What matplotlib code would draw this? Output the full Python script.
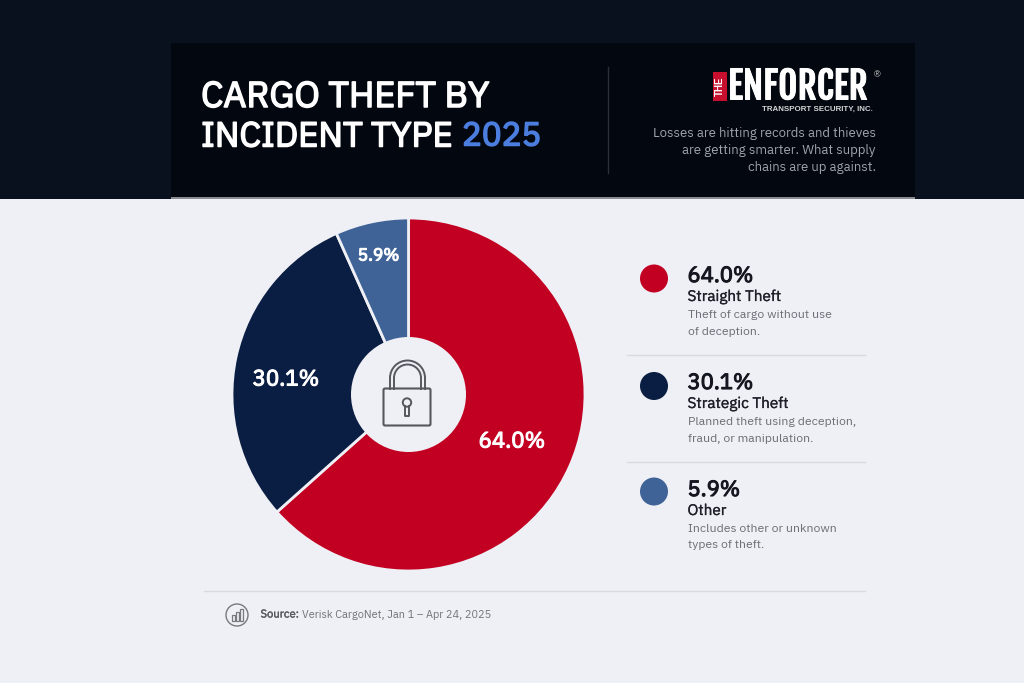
import logging
import matplotlib
matplotlib.use("Agg")
import matplotlib.pyplot as plt
import matplotlib.patheffects as pe
from matplotlib.patches import Rectangle, Circle, FancyBboxPatch, Arc

labels = ["Straight Theft", "Strategic Theft", "Other"]
values = [64.0, 30.1, 5.9]
# slice sizes as actually drawn in the reference (its geometry departs slightly from the printed figures)
drawn_shares = [63.4, 29.9, 6.7]
colors = ["#c20022", "#0a1d42", "#3f6397"]
descriptions = [["Theft of cargo without use", "of deception."],
                ["Planned theft using deception,", "fraud, or manipulation."],
                ["Includes other or unknown", "types of theft."]]
title_lines = ["CARGO THEFT BY", "INCIDENT TYPE "]
title_year = "2025"
subtitle = ["Losses are hitting records and thieves", "are getting smarter. What supply", "chains are up against."]
source_label = "Source:"
source_text = "Verisk CargoNet, Jan 1 – Apr 24, 2025"

W, H = 1024, 683
FONT = ["IBM Plex Sans", "Inter", "DejaVu Sans"]
LOGO = ["Fjalla One", "Anton", "Roboto", "DejaVu Sans"]
plt.rcParams['font.family'] = FONT
logging.getLogger("matplotlib.font_manager").setLevel(logging.ERROR)


def heavy(color, width):
    """Thicken the variable-weight font, which renders at regular weight only."""
    return [pe.withStroke(linewidth=width, foreground=color)]


fig = plt.figure(figsize=(W/100, H/100), dpi=100, facecolor="#eff0f5")
bg = fig.add_axes([0, 0, 1, 1])
bg.set_xlim(0, W); bg.set_ylim(H, 0); bg.axis("off")

bg.add_patch(Rectangle((0, 0), W, 198.5, fc="#0a111e", ec="none"))
bg.add_patch(Rectangle((171, 43), 744, 154, fc="#03070f", ec="none"))
bg.add_patch(Rectangle((171, 197), 744, 1.5, fc="#8a8c93", ec="none"))
bg.plot([607.5, 607.5], [67, 173], color="#2a2f38", lw=1)

bg.text(201, 97, title_lines[0], color="white", fontsize=25.9, va="center", ha="left", path_effects=heavy("white", 1.1))
bg.text(201, 136.5, title_lines[1], color="white", fontsize=25, va="center", ha="left", path_effects=heavy("white", 1.1))
bg.text(462, 136.5, title_year, color="#4c7ee0", fontsize=23.8, va="center", ha="left", path_effects=heavy("#4c7ee0", 1.1))

# logo
bg.add_patch(Rectangle((712.5, 72), 14, 29, fc="#c8102e", ec="none"))
bg.text(719.5, 86.5, "THE", color="white", fontsize=7, fontweight="bold", family="Liberation Sans", rotation=90, ha="center", va="center")
bg.text(728, 87, "ENFORCER", color="white", fontsize=26.8, family=LOGO, ha="left", va="center", path_effects=heavy("white", 0.7))
bg.text(877, 75, "®", color="#dddddd", fontsize=6.5, family="Liberation Sans", ha="center", va="center")
bg.text(873, 109, "TRANSPORT SECURITY, INC.", color="#d5d6d8", fontsize=5.7, fontweight="bold", family="Liberation Sans", ha="right", va="center")
for i, line in enumerate(subtitle):
    bg.text(876, 134 + i*16.9, line, color="#a0a3a9", fontsize=9.5, ha="right", va="center")

# pie
cx, cy, R = 408.5, 394.5, 176.5
ax = fig.add_axes([(cx-R)/W, 1-(cy+R)/H, 2*R/W, 2*R/H])
ax.pie(drawn_shares, colors=colors, startangle=90, counterclock=False, radius=1,
       wedgeprops=dict(edgecolor="#eff0f5", linewidth=2))
ax.set_xlim(-1, 1); ax.set_ylim(-1, 1); ax.set_aspect("equal")
ax.patch.set_alpha(0)

ov = fig.add_axes([0, 0, 1, 1], facecolor="none")
ov.set_xlim(0, W); ov.set_ylim(H, 0); ov.axis("off")
ov.add_patch(Circle((cx, cy), 57.5, fc="#eff0f5", ec="none"))
for (x, y, v, fs) in [(512, 441.5, values[0], 16), (286, 379.5, values[1], 16), (378.5, 255.5, values[2], 12.5)]:
    ov.text(x, y, f"{v:.1f}%", color="white", fontsize=fs, ha="center", va="center", path_effects=heavy("white", 0.8))

# lock icon
ic = "#55585f"
ov.add_patch(FancyBboxPatch((383.5, 388.5), 47, 37, boxstyle="round,pad=0,rounding_size=1.5", fc="none", ec=ic, lw=1.5))
for r in (17.5, 13.5):
    ov.add_patch(Arc((407.5, 378), 2*r, 2*r, theta1=180, theta2=360, ec=ic, lw=1.4))
    ov.plot([407.5-r, 407.5-r], [378, 388.5], color=ic, lw=1.4)
    ov.plot([407.5+r, 407.5+r], [378, 388.5], color=ic, lw=1.4)
ov.add_patch(Circle((407, 402.5), 4.2, fc="none", ec=ic, lw=1.4))
ov.plot([405, 405, 409, 409], [406, 416, 416, 406], color=ic, lw=1.4)

# legend
rows = [278.5, 386, 491.5]
for i, y in enumerate(rows):
    ov.add_patch(Circle((654, y), 14, fc=colors[i], ec="none"))
    ov.text(687.5, 276 + 107*i, f"{values[i]:.1f}%", color="#14171f", fontsize=15.8, ha="left", va="center", path_effects=heavy("#14171f", 0.8))
    ov.text(687.5, 297 + 107*i, labels[i], color="#1d2028", fontsize=11, ha="left", va="center", path_effects=heavy("#1d2028", 0.2))
    for j, line in enumerate(descriptions[i]):
        ov.text(687.5, 315.5 + 106.5*i + j*16.5, line, color="#6c6f77", fontsize=8.8, ha="left", va="center")
for y in (354.5, 462):
    ov.plot([627, 865], [y, y], color="#d9dae0", lw=1)
ov.plot([204, 865], [590.5, 590.5], color="#d9dae0", lw=1)

# source
ov.add_patch(Circle((237, 615), 11, fc="none", ec="#77797f", lw=1))
for bx, bh in [(231.5, 6), (235.5, 9), (239.5, 12)]:
    ov.add_patch(Rectangle((bx, 621-bh), 3, bh, fc="none", ec="#77797f", lw=0.9))
ov.text(260.5, 614.5, source_label, color="#55585f", fontsize=8.1, ha="left", va="center", path_effects=heavy("#55585f", 0.25))
ov.text(302.5, 614.5, source_text, color="#72757c", fontsize=7.9, ha="left", va="center")

fig.savefig("out.png", dpi=100, facecolor=fig.get_facecolor())
